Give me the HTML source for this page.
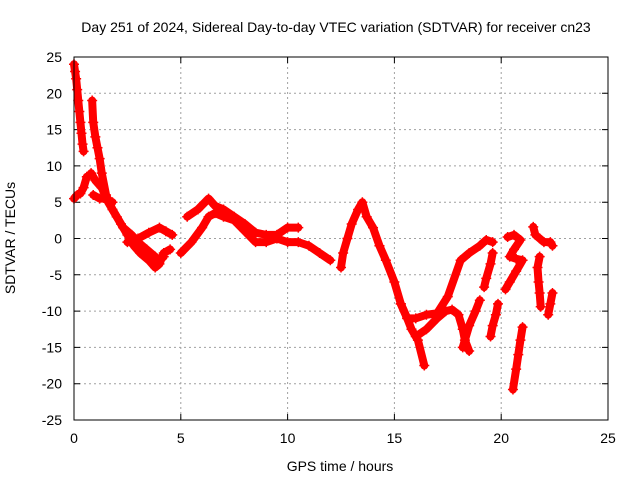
<!DOCTYPE html>
<html><head><meta charset="utf-8"><style>
body{margin:0;background:#fff;}
svg{display:block;font-family:"Liberation Sans",sans-serif;}
</style></head><body>
<svg id="chart" width="640" height="480" viewBox="0 0 640 480">
<rect width="640" height="480" fill="#fff"/>
<text x="336" y="32" font-size="14" text-anchor="middle">Day 251 of 2024, Sidereal Day-to-day VTEC variation (SDTVAR) for receiver cn23</text>
<g id="grid"></g>
<g id="ticks"></g>
<g id="series"></g>
<rect x="74" y="57" width="534" height="363" fill="none" stroke="#000" stroke-width="1"/>
<text x="340" y="471" font-size="14" text-anchor="middle">GPS time / hours</text>
<text x="15" y="238" font-size="14" text-anchor="middle" transform="rotate(-90 15 238)">SDTVAR / TECUs</text>
</svg>
<script>
const xTicks=[0,5,10,15,20,25];
const yTicks=[25,20,15,10,5,0,-5,-10,-15,-20,-25];
const track1=[[0,24],[0.05,23],[0.1,22],[0.15,20.5],[0.2,19],[0.25,17.5],[0.3,16],[0.35,14.5],[0.4,13],[0.45,12]];
const track2=[[0.85,19],[0.9,16],[1.0,14],[1.1,12.5],[1.2,11],[1.3,9],[1.5,6],[1.8,4],[2.2,2],[2.5,0.5],[2.8,-1],[3.1,-2],[3.5,-3],[3.8,-4],[4.0,-3.5],[4.2,-2],[4.5,-1.5]];
const track3=[[0,5.5],[0.15,6],[0.3,6.2],[0.45,7],[0.6,8.5]];
const track4=[[0.8,9],[1.0,8],[1.3,7],[1.6,5],[2.0,3],[2.3,1.5],[2.7,0.5],[3.0,-0.5],[3.4,-1.5],[3.8,-2.5],[4.0,-3],[4.2,-2.5]];
const track5=[[0.9,6],[1.2,5.5],[1.5,5.5],[1.8,5]];
const track6=[[2.5,-0.5],[3.0,0],[3.5,0.8],[4.0,1.5],[4.3,1],[4.6,0.5]];
const track7=[[5.0,-2],[5.5,-0.5],[6.0,1.5],[6.3,3],[6.6,3.5],[7.0,3],[7.5,2.5],[8.0,1],[8.5,-0.5],[9.0,-0.5],[9.5,0],[10.0,-0.5],[10.5,-0.5],[11.0,-1],[11.5,-2],[12.0,-3]];
const track8=[[5.3,3],[5.8,4],[6.3,5.5],[6.6,4.5],[7.0,4],[7.5,3],[8.0,2],[8.5,0.8],[9.0,0.5],[9.5,0.5],[10.0,1.5],[10.5,1.5]];
const track9=[[12.5,-4],[12.6,-2],[12.8,0],[13.0,2],[13.3,4],[13.5,5],[13.7,3],[14.0,1.5],[14.3,-1],[14.6,-3],[15.0,-6],[15.3,-9],[15.6,-11],[16.0,-11],[16.5,-10.5],[17.0,-10.3],[17.5,-8],[18.1,-3],[18.5,-2],[19.0,-1],[19.3,-0.2],[19.6,-0.5]];
const track10=[[15.3,-9],[15.6,-11],[15.8,-12.5],[16.1,-14],[16.4,-17.5]];
const track11=[[16.0,-13.5],[16.5,-12.5],[17.0,-11],[17.4,-10],[17.7,-9.8],[18.0,-10.5],[18.2,-12.5],[18.3,-14],[18.5,-15.5]];
const track12=[[18.2,-15],[18.5,-12],[18.8,-10],[19.0,-8.5]];
const track13=[[19.6,-2],[19.5,-3.5],[19.3,-5.5],[19.2,-6.7]];
const track14=[[19.5,-13.5],[19.6,-12],[19.75,-10.5],[19.85,-9]];
const track15=[[20.3,0.2],[20.6,0.5],[20.9,-0.2],[20.6,-1.5],[20.4,-2.5],[20.7,-2.8],[21.0,-3],[20.7,-4.5],[20.4,-6],[20.2,-7]];
const track16=[[21.0,-12.2],[20.9,-14],[20.8,-16],[20.7,-18],[20.55,-20.8]];
const track17=[[21.5,1.6],[21.6,0.5],[21.8,0],[22.0,-0.5],[22.3,-0.5],[22.4,-1]];
const track18=[[21.8,-2.5],[21.7,-4],[21.75,-6],[21.8,-7.5],[21.85,-9.4]];
const track19=[[22.4,-7.5],[22.3,-9],[22.2,-10.5]];
const tracks=[track1,track2,track3,track4,track5,track6,track7,track8,track9,track10,track11,track12,track13,track14,track15,track16,track17,track18,track19];
const X0=74,X1=608,Y0=420,Y1=57;
function xs(t){return X0+(t-0)/25*(X1-X0);}
function ys(v){return Y0-(v+25)/50*(Y0-Y1);}
const NS='http://www.w3.org/2000/svg';
const grid=document.getElementById('grid'),ticks=document.getElementById('ticks'),ser=document.getElementById('series');
xTicks.forEach(t=>{
 const x=xs(t);
 if(t>0&&t<25){const l=document.createElementNS(NS,'line');
 
 
 l.setAttribute('x1',x);l.setAttribute('x2',x);l.setAttribute('y1',Y1);l.setAttribute('y2',Y0);
 l.setAttribute('stroke','#a0a0a0');l.setAttribute('stroke-dasharray','2,3');grid.appendChild(l);}
 const tk=document.createElementNS(NS,'path');
 
 
 tk.setAttribute('d',`M${x},${Y0}v-6M${x},${Y1}v6`);tk.setAttribute('stroke','#000');ticks.appendChild(tk);
 const tx=document.createElementNS(NS,'text');
 
 
 tx.setAttribute('x',x);tx.setAttribute('y',443);tx.setAttribute('font-size','14');tx.setAttribute('text-anchor','middle');tx.textContent=t;ticks.appendChild(tx);
});
yTicks.forEach(v=>{
 const y=ys(v);
 if(v>-25&&v<25){const l=document.createElementNS(NS,'line');
 
 
 l.setAttribute('x1',X0);l.setAttribute('x2',X1);l.setAttribute('y1',y);l.setAttribute('y2',y);
 l.setAttribute('stroke','#a0a0a0');l.setAttribute('stroke-dasharray','2,3');grid.appendChild(l);}
 const tk=document.createElementNS(NS,'path');
 
 
 tk.setAttribute('d',`M${X0},${y}h6M${X1},${y}h-6`);tk.setAttribute('stroke','#000');ticks.appendChild(tk);
 const tx=document.createElementNS(NS,'text');
 
 
 tx.setAttribute('x',62);tx.setAttribute('y',y+5);tx.setAttribute('font-size','14');tx.setAttribute('text-anchor','end');tx.textContent=v;ticks.appendChild(tx);
});
tracks.forEach(tr=>{
 const p=document.createElementNS(NS,'polyline');
 
 
 p.setAttribute('points',tr.map(d=>xs(d[0])+','+ys(d[1])).join(' '));
 p.setAttribute('fill','none');p.setAttribute('stroke','#f00');p.setAttribute('stroke-width','8');p.setAttribute('stroke-linejoin','round');p.setAttribute('stroke-linecap','round');
 ser.appendChild(p);
 tr.forEach(d=>{
  const m=document.createElementNS(NS,'path');
  
  
  const x=xs(d[0]),y=ys(d[1]);
  m.setAttribute('d',`M${x-5},${y}h10M${x},${y-5}v10`);m.setAttribute('stroke','#f00');m.setAttribute('stroke-width','1.5');
  ser.appendChild(m);
 });
});
</script>
</body></html>
